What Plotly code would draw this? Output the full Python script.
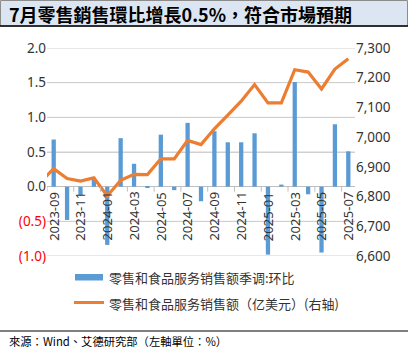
import plotly.graph_objects as go

# ---- data ----
months = ["2023-08", "2023-09", "2023-10", "2023-11", "2023-12", "2024-01", "2024-02", "2024-03",
          "2024-04", "2024-05", "2024-06", "2024-07", "2024-08", "2024-09", "2024-10",
          "2024-11", "2024-12", "2025-01", "2025-02", "2025-03", "2025-04", "2025-05",
          "2025-06", "2025-07"]
mom_pct = [None, 0.68, -0.48, -0.12, 0.13, -0.84, 0.70, 0.33,
           -0.02, 0.75, -0.05, 0.92, -0.21, 0.80, 0.64,
           0.64, 0.77, -0.98, 0.03, 1.51, -0.11, -0.95,
           0.90, 0.51]
sales_bn = [6848, 6894, 6861, 6852, 6863, 6802, 6855, 6875,
            6874, 6927, 6927, 6989, 6975, 7028, 7074,
            7121, 7177, 7115, 7115, 7227, 7219, 7162,
            7229, 7264]
left_ticks = [-1.0, -0.5, 0.0, 0.5, 1.0, 1.5, 2.0]
left_labels = ['<span style="color:#ff0000">(1.0)</span>', '<span style="color:#ff0000">(0.5)</span>',
               "0.0", "0.5", "1.0", "1.5", "2.0"]

title_text = "<b>7月零售銷售環比增長0.5%，符合市場預期</b>"
source_text = "來源：Wind、艾德研究部（左軸單位：%）"
bar_name = "零售和食品服务销售额季调:环比"
line_name = "零售和食品服务销售额（亿美元）(右轴)"

BAR_COLOR = "#5b9bd5"
LINE_COLOR = "#ed7d31"
GRID_COLOR = "#d0d0d0"
AXIS_COLOR = "#bfbfbf"

# ---- layout geometry ----
W, H = 408, 350
L, R, T, B = 47, 53, 48, 94
PW, PH = W - L - R, H - T - B
Y_RANGE = [-1, 2]
TICK_LEN = 5 * (Y_RANGE[1] - Y_RANGE[0]) / PH   # 5 px expressed in left-axis units


def px(x):
    return (x - L) / PW


def py(y):
    return (H - B - y) / PH


FONT = "Noto Sans, Noto Sans CJK SC, sans-serif"
CJK_TC = "Noto Sans CJK TC, sans-serif"
CJK_SC = "Noto Sans CJK SC, sans-serif"

fig = go.Figure()
fig.add_trace(go.Bar(x=months, y=mom_pct, name=bar_name, marker_color=BAR_COLOR,
                     marker_line_width=0, xaxis="x", yaxis="y"))
fig.add_trace(go.Scatter(x=months, y=sales_bn, name=line_name, mode="lines",
                         line=dict(color=LINE_COLOR, width=3.2), xaxis="x", yaxis="y2"))

cat_range = [0.5, len(months) - 0.5]

# category labels sitting just under the zero line (every second month)
label_idx = list(range(1, len(months), 2))
x_labels = [
    dict(text=months[i], xref="x", yref="y", x=months[i], y=0, xanchor="center", yanchor="top",
         textangle=-90, yshift=-4, showarrow=False, borderpad=0,
         font=dict(family=FONT, size=13, color="#333333"))
    for i in label_idx
]
# tick marks on category boundaries below the zero line
x_ticks = [
    dict(type="line", xref="x", yref="y", x0=i - 0.5, x1=i - 0.5, y0=0, y1=-TICK_LEN,
         line=dict(color=AXIS_COLOR, width=1))
    for i in label_idx
]
# horizontal gridlines (reinforce the axis grid)
grid_shapes = [
    dict(type="line", xref="paper", yref="y", x0=0, x1=1, y0=v, y1=v,
         line=dict(color=GRID_COLOR, width=1), layer="between")
    for v in left_ticks if v != 0
]

fig.update_layout(
    width=W, height=H,
    margin=dict(l=L, r=R, t=T, b=B),
    paper_bgcolor="white", plot_bgcolor="white",
    bargap=0.68,
    showlegend=False,
    font=dict(family=FONT, size=13, color="#333333"),
    xaxis=dict(type="category", range=cat_range, anchor="y",
               showticklabels=False, ticks="", showline=False, showgrid=False, zeroline=False),
    xaxis2=dict(type="category", range=cat_range, anchor="free", position=1 / 3, overlaying="x",
                showticklabels=False, ticks="", showline=False, showgrid=False, zeroline=False),
    yaxis=dict(range=Y_RANGE, tickmode="array", tickvals=left_ticks, ticktext=left_labels,
               showgrid=True, gridcolor=GRID_COLOR, gridwidth=1,
               zeroline=True, zerolinecolor=AXIS_COLOR, zerolinewidth=1,
               showline=False, ticks="",
               tickfont=dict(family=FONT, size=13.5, color="#333333")),
    yaxis2=dict(range=[6600, 7300], dtick=100, tickformat=",", overlaying="y", side="right",
                showgrid=False, zeroline=False, showline=False, ticks="",
                tickfont=dict(family=FONT, size=13.5, color="#333333")),
    shapes=grid_shapes + x_ticks + [
        dict(type="rect", xref="paper", yref="paper", x0=px(0.5), x1=px(W - 0.5), y0=py(26), y1=py(0.5),
             fillcolor="#dce6f2", line=dict(color="#8c8c8c", width=1), layer="below"),
        dict(type="line", xref="paper", yref="paper", x0=px(0), x1=px(W), y0=py(26), y1=py(26),
             line=dict(color="#000000", width=1.5)),
        dict(type="line", xref="paper", yref="paper", x0=px(0), x1=px(W), y0=py(331), y1=py(331),
             line=dict(color="#000000", width=1)),
        # legend swatches
        dict(type="rect", xref="paper", yref="paper", x0=px(75), x1=px(103), y0=py(280.5), y1=py(274),
             fillcolor=BAR_COLOR, line=dict(width=0)),
        dict(type="line", xref="paper", yref="paper", x0=px(74), x1=px(104), y0=py(302.5), y1=py(302.5),
             line=dict(color=LINE_COLOR, width=3)),
    ],
    annotations=x_labels + [
        dict(text=title_text, xref="paper", yref="paper", x=px(7), y=py(13.5), xanchor="left",
             yanchor="middle", showarrow=False, font=dict(family=CJK_TC, size=18, color="#000000")),
        dict(text=source_text, xref="paper", yref="paper", x=px(7), y=py(341), xanchor="left",
             yanchor="middle", showarrow=False, font=dict(family=CJK_TC, size=11.3, color="#000000")),
        dict(text=bar_name, xref="paper", yref="paper", x=px(107), y=py(277.5), xanchor="left",
             yanchor="middle", showarrow=False, font=dict(family=CJK_SC, size=13, color="#333333")),
        dict(text=line_name, xref="paper", yref="paper", x=px(107), y=py(303), xanchor="left",
             yanchor="middle", showarrow=False, font=dict(family=CJK_SC, size=13, color="#333333")),
    ],
)

fig.write_html("out.html")
